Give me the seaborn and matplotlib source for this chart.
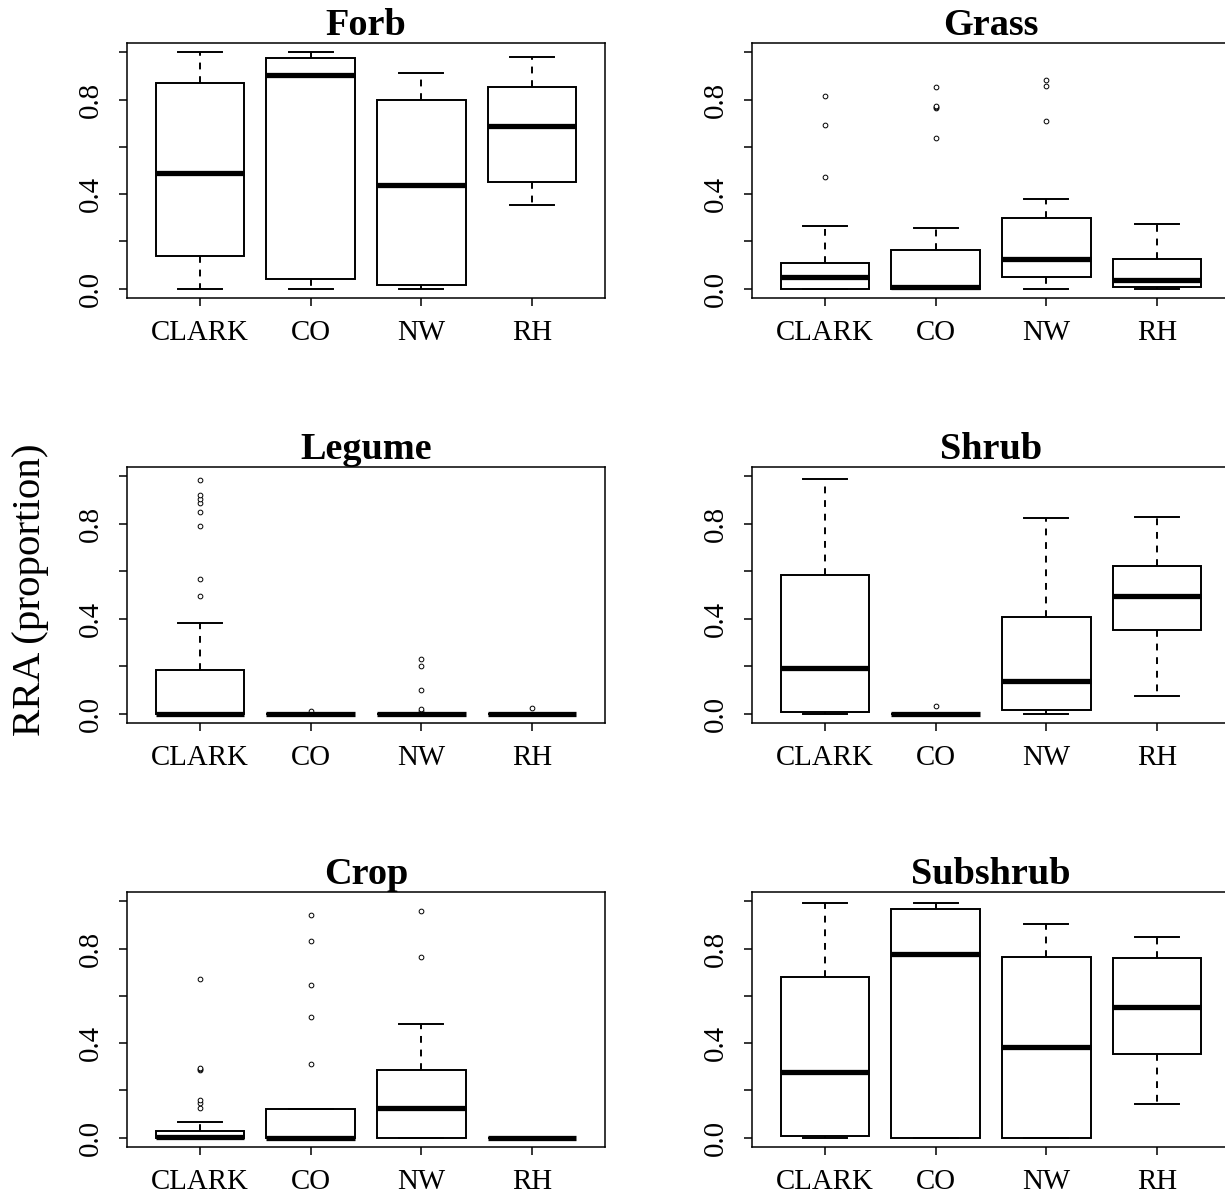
import numpy as np
import pandas as pd
import matplotlib
matplotlib.use("Agg")
import matplotlib.pyplot as plt
import seaborn as sns

plt.rcParams["font.family"] = ["Liberation Serif", "DejaVu Serif"]

SITES = ["CLARK", "CO", "NW", "RH"]
PANELS = ["Forb", "Grass", "Legume", "Shrub", "Crop", "Subshrub"]
Y_LABEL = "RRA (proportion)"
Y_TICKS = [0.0, 0.2, 0.4, 0.6, 0.8, 1.0]
Y_TICK_LABELS = ["0.0", "", "0.4", "", "0.8", ""]

# per site: [lower whisker, Q1, median, Q3, upper whisker]; outliers separately
forb_box = [[0.0, 0.14, 0.49, 0.87, 1.0], [0.0, 0.04, 0.905, 0.975, 1.0],
            [0.0, 0.015, 0.44, 0.80, 0.915], [0.355, 0.45, 0.69, 0.855, 0.98]]
forb_out = [[], [], [], []]
grass_box = [[0.0, 0.0, 0.05, 0.11, 0.266], [0.0, 0.0, 0.007, 0.163, 0.256],
             [0.0, 0.047, 0.127, 0.297, 0.379], [0.0, 0.007, 0.038, 0.127, 0.273]]
grass_out = [[0.474, 0.692, 0.814], [0.636, 0.766, 0.770, 0.774, 0.854],
             [0.708, 0.860, 0.882], []]
legume_box = [[0.0, 0.0, 0.0, 0.184, 0.383], [0.0, 0.0, 0.0, 0.0, 0.0],
              [0.0, 0.0, 0.0, 0.0, 0.0], [0.0, 0.0, 0.0, 0.0, 0.0]]
legume_out = [[0.495, 0.568, 0.793, 0.849, 0.890, 0.905, 0.920, 0.984], [0.01],
              [0.012, 0.018, 0.10, 0.20, 0.23], [0.025]]
shrub_box = [[0.0, 0.007, 0.192, 0.584, 0.991], [0.0, 0.0, 0.0, 0.0, 0.0],
             [0.0, 0.015, 0.136, 0.408, 0.824], [0.072, 0.351, 0.495, 0.623, 0.831]]
shrub_out = [[], [0.032], [], []]
crop_box = [[0.0, 0.0, 0.002, 0.027, 0.066], [0.0, 0.0, 0.0, 0.119, 0.119],
            [0.0, 0.0, 0.126, 0.286, 0.48], [0.0, 0.0, 0.0, 0.0, 0.0]]
crop_out = [[0.125, 0.145, 0.161, 0.288, 0.292, 0.296, 0.671],
            [0.312, 0.511, 0.648, 0.831, 0.943], [0.766, 0.958], []]
subshrub_box = [[0.0, 0.007, 0.279, 0.679, 0.992], [0.0, 0.0, 0.776, 0.967, 0.992],
                [0.0, 0.0, 0.385, 0.766, 0.905], [0.143, 0.354, 0.552, 0.759, 0.848]]
subshrub_out = [[], [], [], []]

BOXES = [forb_box, grass_box, legume_box, shrub_box, crop_box, subshrub_box]
OUTS = [forb_out, grass_out, legume_out, shrub_out, crop_out, subshrub_out]


def expand(box, out):
    """Observations whose quartiles / whiskers equal the read summary."""
    lo, q1, med, q3, hi = box
    k = len(out) + 1
    return [lo] + [q1] * k + [med] * k + [q3] * k + [hi] + sorted(out)


W, H = 1225, 1199
fig = plt.figure(figsize=(W / 100, H / 100), dpi=100)

col_x = [127, 752]
row_y = [(43, 298), (467, 723), (892, 1147)]
ax_w = 478

for i, (name, box, out) in enumerate(zip(PANELS, BOXES, OUTS)):
    r, c = divmod(i, 2)
    top, bot = row_y[r]
    rect = [col_x[c] / W, 1 - bot / H, ax_w / W, (bot - top) / H]
    ax = fig.add_axes(rect)
    sites, vals = [], []
    for s, b, o in zip(SITES, box, out):
        v = expand(b, o)
        vals += v
        sites += [s] * len(v)
    df = pd.DataFrame({"site": sites, "RRA": vals})
    sns.boxplot(data=df, x="site", y="RRA", order=SITES, ax=ax,
                color="white", linecolor="black", linewidth=1.4, width=0.8,
                whis=1.5, saturation=1, fliersize=3.4,
                medianprops=dict(linewidth=3.8),
                whiskerprops=dict(linestyle=(0, (3.5, 3.5))),
                flierprops=dict(marker="o", markerfacecolor="white",
                                markeredgecolor="black", markeredgewidth=0.7))
    ax.set_xlim(-0.66, 3.66)
    ax.set_ylim(-0.04, 1.04)
    ax.set_yticks(Y_TICKS)
    ax.set_yticklabels(Y_TICK_LABELS, rotation=90, va="center")
    ax.set_xlabel("")
    ax.set_ylabel("")
    ax.set_title(name, fontsize=27.5, fontweight="bold", pad=1)
    ax.tick_params(axis="both", direction="out", length=6, width=1.1,
                   labelsize=20.8, colors="black")
    ax.tick_params(axis="x", pad=10)
    ax.tick_params(axis="y", pad=11)
    for sp in ax.spines.values():
        sp.set_linewidth(1.1)
        sp.set_color("black")

fig.text(0.025, 1 - 590 / H, Y_LABEL, rotation=90, fontsize=29.5,
         ha="center", va="center")

fig.savefig("out.png", dpi=100)
